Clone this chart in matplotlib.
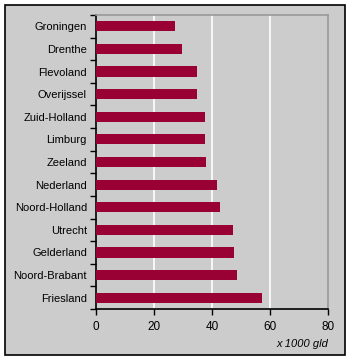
import matplotlib
matplotlib.use('Agg')
import matplotlib.pyplot as plt
from matplotlib.patches import Rectangle

provinces = ['Groningen', 'Drenthe', 'Flevoland', 'Overijssel', 'Zuid-Holland',
             'Limburg', 'Zeeland', 'Nederland', 'Noord-Holland', 'Utrecht',
             'Gelderland', 'Noord-Brabant', 'Friesland']
values = [27.2, 29.7, 34.8, 34.8, 37.6, 37.6, 37.9, 41.7, 42.8, 47.2, 47.6, 48.6, 57.2]
xticks = [0, 20, 40, 60, 80]

plt.rcParams['font.family'] = ['Liberation Sans', 'DejaVu Sans']

W, H = 352, 361
fig = plt.figure(figsize=(W / 100, H / 100), dpi=100)
fig.patch.set_facecolor('white')

# outer grey panel with black frame
fig.patches.append(Rectangle((5 / W, 1 - 355 / H), 340 / W, 350 / H,
                             transform=fig.transFigure, facecolor='#cccccc',
                             edgecolor='black', linewidth=1.2, zorder=-1))

ax = fig.add_axes([96 / W, 1 - 309 / H, 232 / W, 294 / H])
ax.set_zorder(2)
ax.set_facecolor('#cccccc')

n = len(provinces)
pos = list(range(n))
ax.barh(pos, values, height=0.45, color='#990033', zorder=3)
ax.set_ylim(n - 0.5, -0.5)
ax.set_xlim(0, 80)

ax.set_xticks(xticks)
ax.set_yticks(pos)
ax.set_yticklabels(provinces)
ax.set_yticks([i - 0.5 for i in range(n + 1)], minor=True)
ax.tick_params(axis='y', which='major', length=0, pad=6.5, labelsize=8)
ax.tick_params(axis='y', which='minor', length=4, direction='out', width=1)
ax.tick_params(axis='x', length=4, direction='out', width=1, labelsize=8.5, pad=5)

for v in xticks[1:-1]:
    ax.axvline(v, color='white', linewidth=1.2, zorder=1)

for s in ['left', 'bottom']:
    ax.spines[s].set_color('black')
    ax.spines[s].set_linewidth(1.2)
for s in ['top', 'right']:
    ax.spines[s].set_color('#999999')
    ax.spines[s].set_linewidth(1.2)

fig.text(328 / W, 1 - 344 / H, 'x 1000 gld', ha='right', va='center',
         style='italic', fontsize=8)

fig.savefig('out.png', dpi=100)
